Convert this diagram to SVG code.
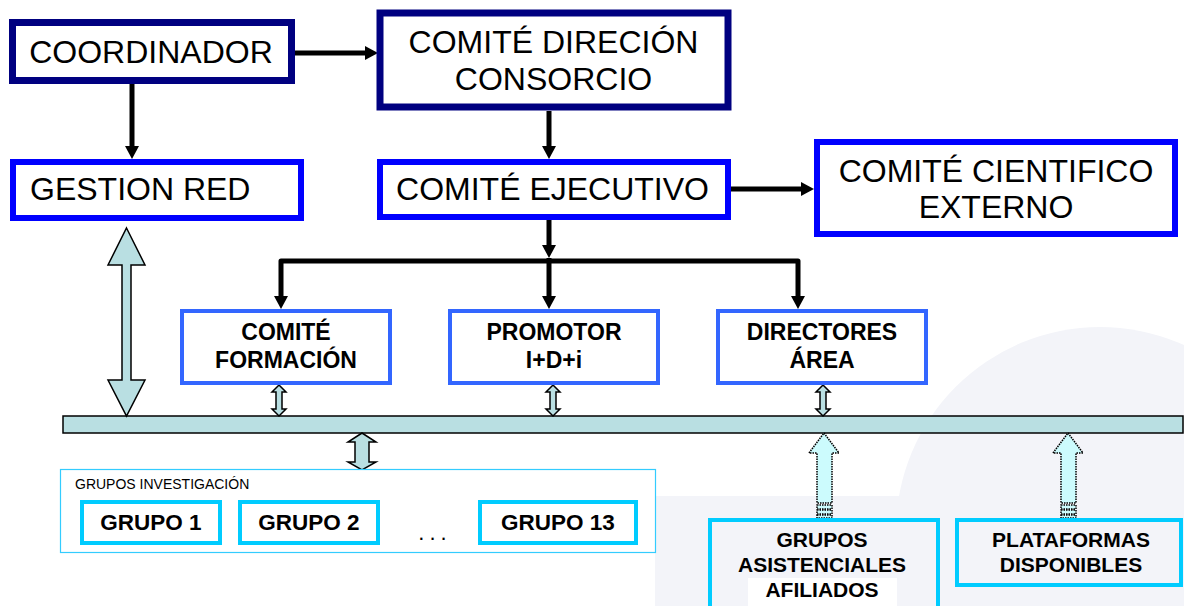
<svg xmlns="http://www.w3.org/2000/svg" width="1184" height="606" viewBox="0 0 1184 606">
<style>
.t32{font-family:"Liberation Sans",Arial,sans-serif;font-size:32px;fill:#000}
.tb{font-family:"Liberation Sans",Arial,sans-serif;font-weight:bold;fill:#000;text-anchor:middle}
.nav{fill:#fff;stroke:#000080;stroke-width:7}
.blu{fill:#fff;stroke:#0000ff;stroke-width:6}
.mid{fill:#fff;stroke:#3366ff;stroke-width:4}
.cy{fill:#fff;stroke:#00ccff;stroke-width:4}
.cyn{fill:none;stroke:#00ccff;stroke-width:4}
.conn{fill:none;stroke:#000;stroke-width:5;stroke-linejoin:round}
.dbl{fill:#b9dfe2;stroke:#000;stroke-width:1.5;stroke-linejoin:miter}
.up{fill:#ccfbfd;stroke:#000;stroke-width:1.5;stroke-dasharray:1.5 1}
</style>
<defs>
<marker id="ah" markerUnits="userSpaceOnUse" markerWidth="14" markerHeight="14" refX="0" refY="7" orient="auto">
<path d="M0,0 L13,7 L0,14 z" fill="#000"/>
</marker>
</defs>
<g id="background">
<rect width="1184" height="606" fill="#fff"/>
<circle cx="1100" cy="531" r="204" fill="#f3f4f9"/>
<rect x="655" y="496" width="529" height="110" fill="#f3f4f9"/>
<rect x="748" y="578" width="149" height="28" fill="#fff"/>
</g>
<g id="bar">
<rect x="63" y="416" width="1120" height="17" fill="#b9dfe2" stroke="#000" stroke-width="1.5"/>
</g>
<g id="connectors">
<path class="conn" d="M295,53 H365" marker-end="url(#ah)"/>
<path class="conn" d="M132,84 V146" marker-end="url(#ah)"/>
<path class="conn" d="M549,111 V146" marker-end="url(#ah)"/>
<path class="conn" d="M731,189 H801" marker-end="url(#ah)"/>
<path class="conn" d="M549,220 V245" marker-end="url(#ah)"/>
<path class="conn" d="M549,261 H281 V296" marker-end="url(#ah)"/>
<path class="conn" d="M549,261 H798 V296" marker-end="url(#ah)"/>
<path class="conn" d="M549,258 V296" marker-end="url(#ah)"/>
<polygon class="dbl" points="126.5,228 145,265 131,265 131,380 145,380 126.5,416 108,380 122,380 122,265 108,265"/>
<polygon class="dbl" points="279,385 286,392 282,392 282,409 286,409 279,416 272,409 276,409 276,392 272,392"/>
<polygon class="dbl" points="553,385 560,392 556,392 556,409 560,409 553,416 546,409 550,409 550,392 546,392"/>
<polygon class="dbl" points="823,385 830,392 826,392 826,409 830,409 823,416 816,409 820,409 820,392 816,392"/>
<polygon class="dbl" points="362,433 376,442 369,442 369,462 376,462 362,470 348,462 355,462 355,442 348,442"/>
<polygon class="up" points="824,433 839,453 832,453 832,503 817,503 817,453 809,453"/>
<rect class="up" x="817" y="505" width="15" height="4"/>
<rect class="up" x="817" y="510" width="15" height="4"/>
<rect class="up" x="817" y="515" width="15" height="3"/>
<polygon class="up" points="1068,433 1083,453 1076,453 1076,503 1061,503 1061,453 1053,453"/>
<rect class="up" x="1061" y="505" width="15" height="4"/>
<rect class="up" x="1061" y="510" width="15" height="4"/>
<rect class="up" x="1061" y="515" width="15" height="3"/>
</g>
<g id="coordinador">
<rect class="nav" x="12.5" y="22.5" width="279" height="58"/>
<text class="t32" x="151" y="63" text-anchor="middle">COORDINADOR</text>
</g>
<g id="comite-direccion">
<rect class="nav" x="380" y="13" width="348" height="94"/>
<text class="t32" x="553.5" y="53" text-anchor="middle">COMITÉ DIRECIÓN</text>
<text class="t32" x="553.5" y="90" text-anchor="middle">CONSORCIO</text>
</g>
<g id="gestion-red">
<rect class="blu" x="13" y="162" width="288" height="56"/>
<text class="t32" x="30" y="200">GESTION RED</text>
</g>
<g id="comite-ejecutivo">
<rect class="blu" x="380" y="162" width="348" height="55"/>
<text class="t32" x="552.5" y="200" text-anchor="middle">COMITÉ EJECUTIVO</text>
</g>
<g id="comite-cientifico">
<rect class="blu" x="817" y="142" width="358" height="92"/>
<text class="t32" x="996" y="182" text-anchor="middle">COMITÉ CIENTIFICO</text>
<text class="t32" x="996" y="218" text-anchor="middle">EXTERNO</text>
</g>
<g id="comite-formacion">
<rect class="mid" x="182" y="311" width="208" height="72"/>
<text class="tb" x="286" y="340" font-size="23">COMITÉ</text>
<text class="tb" x="286" y="368" font-size="23">FORMACIÓN</text>
</g>
<g id="promotor">
<rect class="mid" x="450" y="311" width="208" height="72"/>
<text class="tb" x="554" y="340" font-size="23">PROMOTOR</text>
<text class="tb" x="554" y="368" font-size="23">I+D+i</text>
</g>
<g id="directores">
<rect class="mid" x="718" y="311" width="208" height="72"/>
<text class="tb" x="822" y="340" font-size="23">DIRECTORES</text>
<text class="tb" x="822" y="368" font-size="23">ÁREA</text>
</g>
<g id="grupos-investigacion">
<rect x="60.5" y="469.5" width="595" height="83" fill="#fff" stroke="#33ccff" stroke-width="1.2"/>
<text x="75" y="489" font-family="Liberation Sans, Arial, sans-serif" font-size="14" fill="#000">GRUPOS INVESTIGACIÓN</text>
<g id="grupo1">
<rect class="cy" x="82" y="502" width="138" height="41"/>
<text class="tb" x="151" y="530" font-size="22.5">GRUPO 1</text>
</g>
<g id="grupo2">
<rect class="cy" x="240" y="502" width="138" height="41"/>
<text class="tb" x="309" y="530" font-size="22.5">GRUPO 2</text>
</g>
<text x="435" y="540" font-family="Liberation Sans, Arial, sans-serif" font-size="22" fill="#000" text-anchor="middle" letter-spacing="5">...</text>
<g id="grupo13">
<rect class="cy" x="480" y="502" width="156" height="41"/>
<text class="tb" x="558" y="530" font-size="22.5">GRUPO 13</text>
</g>
</g>
<g id="grupos-asistenciales">
<rect class="cyn" x="710" y="520" width="228" height="100"/>
<text class="tb" x="822" y="547" font-size="21">GRUPOS</text>
<text class="tb" x="822" y="572" font-size="21">ASISTENCIALES</text>
<text class="tb" x="822" y="597" font-size="21">AFILIADOS</text>
</g>
<g id="plataformas">
<rect class="cyn" x="957" y="520" width="224" height="65"/>
<text class="tb" x="1071" y="547" font-size="21">PLATAFORMAS</text>
<text class="tb" x="1071" y="572" font-size="21">DISPONIBLES</text>
</g>
</svg>
